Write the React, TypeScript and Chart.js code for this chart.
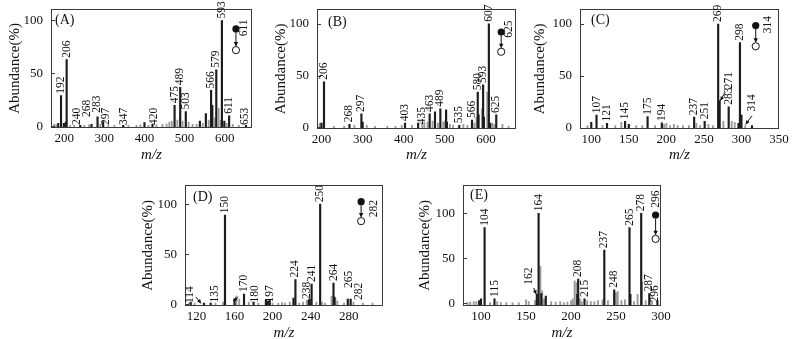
import React, { useEffect, useRef } from "react";
import { Chart, registerables } from "chart.js";

Chart.register(...registerables);

const FONT = '"Liberation Serif", "Times New Roman", serif';
const INK = "#111111";

// ---------------- Panel A ----------------
const A_LABEL_MZ = [192, 206, 240, 268, 283, 297, 347, 420, 475, 489, 503, 566, 579, 593, 611, 653];
const A_LABEL_AB = [29, 63, 1, 2, 9, 4.5, 1, 2, 20, 37, 14, 34, 53.5, 100, 10, 1];
const A_BLACK_MZ = [185, 199, 204, 400, 538, 553, 569, 599];
const A_BLACK_AB = [3, 3, 4, 3.6, 5, 12, 20, 5];
const A_GRAY_MZ = [175, 180, 215, 225, 250, 262, 290, 310, 325, 360, 380, 390, 410, 430, 445, 455, 462, 468, 482, 495, 510, 520, 530, 545, 560, 575, 585, 590, 605, 620, 635];
const A_GRAY_AB = [2, 1.5, 1, 1, 1, 1.5, 2, 1, 1, 1, 1, 1.5, 1, 1.5, 2, 2.5, 4, 5, 6, 5, 4, 2, 2, 3, 6, 8, 17, 6, 3, 2, 1];
const A_X_TICKS = [200, 300, 400, 500, 600];

// ---------------- Panel B ----------------
const B_LABEL_MZ = [206, 268, 297, 403, 435, 463, 489, 535, 566, 580, 593, 607, 625];
const B_LABEL_AB = [44, 3, 13, 4, 4, 13, 18, 2, 7, 34, 41, 100, 12];
const B_BLACK_MZ = [200, 300, 476, 503, 505, 582, 595, 610];
const B_BLACK_AB = [4, 5, 15, 17, 5, 12, 10, 4];
const B_GRAY_MZ = [190, 196, 230, 255, 280, 310, 330, 360, 380, 395, 420, 445, 450, 458, 470, 483, 496, 500, 512, 520, 545, 555, 572, 577, 590, 603, 615, 620, 640, 655];
const B_GRAY_AB = [3, 4, 1, 1, 2, 2, 1, 1, 1, 2, 2, 4, 5, 5, 6, 4, 5, 6, 3, 2, 3, 2, 4, 10, 18, 34, 4, 3, 3, 1];
const B_X_TICKS = [200, 300, 400, 500, 600];

// ---------------- Panel C ----------------
const C_LABEL_MZ = [107, 121, 145, 175, 194, 237, 251, 269, 271, 283, 298, 314];
const C_LABEL_AB = [12, 4, 6, 10.5, 4.5, 10, 6, 100, 26, 20, 82, 2];
const C_BLACK_MZ = [100, 150, 296, 300];
const C_BLACK_AB = [5, 3, 4, 12];
const C_GRAY_MZ = [95, 115, 132, 140, 160, 168, 185, 197, 200, 205, 210, 215, 222, 230, 240, 245, 256, 262, 276, 287, 291, 305];
const C_GRAY_AB = [2, 2, 2, 5, 2, 2, 2, 3, 4, 2, 3, 2, 2, 2, 4, 2, 3, 2, 6, 6, 5, 2];
const C_X_TICKS = [100, 150, 200, 250, 300, 350];

// ---------------- Panel D ----------------
const D_LABEL_MZ = [114, 135, 150, 170, 180, 197, 224, 238, 241, 250, 264, 265, 282];
const D_LABEL_AB = [2, 1, 89, 10, 2, 4, 24.5, 4, 20, 100, 21, 7, 5];
const D_BLACK_MZ = [128, 160, 193, 195, 222, 239, 279];
const D_BLACK_AB = [1, 5, 4, 3, 6, 5, 5];
const D_GRAY_MZ = [112, 118, 140, 148, 162, 165, 175, 185, 200, 206, 210, 213, 218, 228, 232, 236, 246, 252, 255, 262, 266, 268, 275, 285, 295, 305];
const D_GRAY_AB = [1, 1, 1, 2, 8, 5, 2, 1, 1, 1, 1.5, 1, 2, 1, 2, 4, 2, 2, 1, 8, 6, 3, 1, 2, 1, 1];
const D_X_TICKS = [120, 160, 200, 240, 280];

// ---------------- Panel E ----------------
const E_LABEL_MZ = [104, 115, 162, 164, 208, 215, 237, 248, 265, 278, 287, 296];
const E_LABEL_AB = [84, 5, 10, 100, 27, 5, 59, 15, 84, 100, 11, 3];
const E_BLACK_MZ = [98, 100, 167, 172, 207, 266];
const E_BLACK_AB = [3, 5, 11, 8, 10, 10];
const E_GRAY_MZ = [85, 88, 92, 95, 110, 118, 122, 128, 135, 142, 150, 153, 160, 166, 168, 170, 178, 183, 188, 192, 196, 200, 202, 204, 206, 210, 212, 218, 222, 226, 230, 235, 241, 250, 252, 256, 260, 270, 274, 279, 283, 290];
const E_GRAY_AB = [1, 1.5, 2, 2, 1, 2, 1, 1, 1, 1, 4, 2, 3, 41, 14, 5, 2, 1.5, 2, 1, 1.5, 3, 5, 25, 23, 5, 2, 3, 2, 2, 3, 4, 3, 12, 13, 3, 4, 2, 10, 24, 3, 3];
const E_X_TICKS = [100, 150, 200, 250, 300];

const Y_TICKS = [0, 50, 100];

type XY = [number, number];
type Panel = {
  name: string;
  L: number; T: number; R: number; B: number;
  yTitleX: number; xTitleY: number;
  xMin: number; xMax: number; yMin: number; yMax: number;
  xTicks: number[];
  labelMz: number[]; labelAb: number[];
  blackMz: number[]; blackAb: number[];
  grayMz: number[]; grayAb: number[];
  labelAt: Record<string, XY>;
  arrows: { from: XY; to: XY }[];
  marker: { x: number; top: number; bottom: number; text: string; dx: number; dy: number };
  letterDx: number; letterDy: number;
};

const PANELS: Panel[] = [
  {
    name: "(A)", L: 51, T: 3, R: 252, B: 128, yTitleX: 15, xTitleY: 155,
    xMin: 167, xMax: 668, yMin: -1.5, yMax: 111, xTicks: A_X_TICKS,
    labelMz: A_LABEL_MZ, labelAb: A_LABEL_AB, blackMz: A_BLACK_MZ, blackAb: A_BLACK_AB,
    grayMz: A_GRAY_MZ, grayAb: A_GRAY_AB,
    labelAt: { "240": [232, 0.5], "268": [257, 8], "283": [281.5, 12], "297": [303, 0.5], "347": [349, 0.5], "420": [423, 0.5], "653": [651, 0.5] },
    arrows: [],
    marker: { x: 628, top: 92, bottom: 72, text: "611", dx: 8, dy: -1 },
    letterDx: 4, letterDy: 12,
  },
  {
    name: "(B)", L: 317, T: 3, R: 516, B: 129, yTitleX: 281, xTitleY: 155,
    xMin: 189, xMax: 673, yMin: -1.6, yMax: 114.5, xTicks: B_X_TICKS,
    labelMz: B_LABEL_MZ, labelAb: B_LABEL_AB, blackMz: B_BLACK_MZ, blackAb: B_BLACK_AB,
    grayMz: B_GRAY_MZ, grayAb: B_GRAY_AB,
    labelAt: { "435": [445, 2] },
    arrows: [],
    marker: { x: 637, top: 92, bottom: 73, text: "625", dx: 8, dy: -3 },
    letterDx: 11, letterDy: 14,
  },
  {
    name: "(C)", L: 580, T: 3, R: 779, B: 129, yTitleX: 540, xTitleY: 155,
    xMin: 85, xMax: 350, yMin: -1.4, yMax: 114.7, xTicks: C_X_TICKS,
    labelMz: C_LABEL_MZ, labelAb: C_LABEL_AB, blackMz: C_BLACK_MZ, blackAb: C_BLACK_AB,
    grayMz: C_GRAY_MZ, grayAb: C_GRAY_AB,
    labelAt: { "271": [283, 36], "314": [314.5, 14.5] },
    arrows: [
      { from: [278, 34], to: [272, 26] },
      { from: [314, 11.5], to: [305.5, 3] },
    ],
    marker: { x: 319, top: 98.5, bottom: 78.5, text: "314", dx: 12, dy: -1 },
    letterDx: 11, letterDy: 12,
  },
  {
    name: "(D)", L: 185, T: 179, R: 383, B: 306, yTitleX: 148, xTitleY: 333,
    xMin: 108, xMax: 316, yMin: -1.9, yMax: 119.4, xTicks: D_X_TICKS,
    labelMz: D_LABEL_MZ, labelAb: D_LABEL_AB, blackMz: D_BLACK_MZ, blackAb: D_BLACK_AB,
    grayMz: D_GRAY_MZ, grayAb: D_GRAY_AB,
    labelAt: { "114": [113, 0], "135": [139, 0.5], "180": [181, 0.5], "197": [197.5, 0.5], "238": [236.5, 4], "265": [280, 15], "282": [290.5, 3] },
    arrows: [
      { from: [119.5, 7], to: [125, 0.7] },
      { from: [164, 7], to: [158.5, 3] },
    ],
    marker: { x: 293, top: 102.5, bottom: 83, text: "282", dx: 13, dy: 7 },
    letterDx: 8, letterDy: 13,
  },
  {
    name: "(E)", L: 463, T: 179, R: 661, B: 306, yTitleX: 425, xTitleY: 333,
    xMin: 80, xMax: 300, yMin: -2.9, yMax: 131.5, xTicks: E_X_TICKS,
    labelMz: E_LABEL_MZ, labelAb: E_LABEL_AB, blackMz: E_BLACK_MZ, blackAb: E_BLACK_AB,
    grayMz: E_GRAY_MZ, grayAb: E_GRAY_AB,
    labelAt: { "162": [153, 19.5], "296": [293.5, 0] },
    arrows: [{ from: [158.5, 17], to: [161.5, 10] }],
    marker: { x: 294, top: 98, bottom: 71.5, text: "296", dx: 0, dy: -16 },
    letterDx: 7, letterDy: 11,
  },
];

const PAD_TOP = 10;
const PAD_RIGHT = 14;

function geometry(p: Panel) {
  const yw = p.L - p.yTitleX + 9;
  const canvasLeft = p.L - yw;
  const canvasTop = p.T - PAD_TOP;
  const width = p.R - p.L + yw + PAD_RIGHT;
  const canvasBottom = p.xTitleY + 9;
  const height = canvasBottom - canvasTop;
  const xh = canvasBottom - p.B;
  return { yw, canvasLeft, canvasTop, width, height, xh };
}

function drawArrowHead(ctx: CanvasRenderingContext2D, fx: number, fy: number, tx: number, ty: number, size: number) {
  const ang = Math.atan2(ty - fy, tx - fx);
  ctx.beginPath();
  ctx.moveTo(tx, ty);
  ctx.lineTo(tx - size * Math.cos(ang - 0.45), ty - size * Math.sin(ang - 0.45));
  ctx.lineTo(tx - size * Math.cos(ang + 0.45), ty - size * Math.sin(ang + 0.45));
  ctx.closePath();
  ctx.fill();
}

function Spectrum({ p }: { p: Panel }) {
  const ref = useRef<HTMLCanvasElement>(null);
  const g = geometry(p);

  useEffect(() => {
    const canvas = ref.current;
    if (!canvas) return;

    const decor = {
      id: "decor",
      afterDraw(chart: any) {
        const ctx: CanvasRenderingContext2D = chart.ctx;
        const xs = chart.scales.x;
        const ys = chart.scales.y;
        const a = chart.chartArea;
        ctx.save();
        // frame
        ctx.strokeStyle = "#3a3a3a";
        ctx.lineWidth = 1;
        ctx.strokeRect(Math.round(a.left) + 0.5, Math.round(a.top) + 0.5, Math.round(a.right - a.left) - 1, Math.round(a.bottom - a.top) - 1);
        // inner y ticks
        Y_TICKS.forEach((v) => {
          const y = Math.round(ys.getPixelForValue(v)) + 0.5;
          ctx.beginPath();
          ctx.moveTo(a.left, y);
          ctx.lineTo(a.left + 4, y);
          ctx.stroke();
        });
        // panel letter
        ctx.fillStyle = INK;
        ctx.font = `14px ${FONT}`;
        ctx.textAlign = "left";
        ctx.textBaseline = "middle";
        ctx.fillText(p.name, a.left + p.letterDx, a.top + p.letterDy);
        // peak labels
        ctx.font = `11.5px ${FONT}`;
        p.labelMz.forEach((mz, i) => {
          const key = String(mz);
          const pos = p.labelAt[key];
          let px: number, py: number;
          if (pos) {
            px = xs.getPixelForValue(pos[0]);
            py = ys.getPixelForValue(pos[1]) - 1;
          } else {
            px = xs.getPixelForValue(mz);
            py = ys.getPixelForValue(p.labelAb[i]) - 2;
          }
          ctx.save();
          ctx.translate(px, py);
          ctx.rotate(-Math.PI / 2);
          ctx.textAlign = "left";
          ctx.textBaseline = "middle";
          ctx.fillText(key, 0, 0);
          ctx.restore();
        });
        // arrows
        ctx.strokeStyle = INK;
        ctx.fillStyle = INK;
        p.arrows.forEach((ar) => {
          const fx = xs.getPixelForValue(ar.from[0]);
          const fy = ys.getPixelForValue(ar.from[1]);
          const tx = xs.getPixelForValue(ar.to[0]);
          const ty = ys.getPixelForValue(ar.to[1]);
          ctx.beginPath();
          ctx.moveTo(fx, fy);
          ctx.lineTo(tx, ty);
          ctx.stroke();
          drawArrowHead(ctx, fx, fy, tx, ty, 4.5);
        });
        // precursor marker
        const m = p.marker;
        const mx = xs.getPixelForValue(m.x);
        const my1 = ys.getPixelForValue(m.top);
        const my2 = ys.getPixelForValue(m.bottom);
        const r = 3.6;
        ctx.beginPath();
        ctx.arc(mx, my1, r, 0, Math.PI * 2);
        ctx.fill();
        ctx.beginPath();
        ctx.moveTo(mx, my1 + r);
        ctx.lineTo(mx, my2 - r - 1);
        ctx.stroke();
        drawArrowHead(ctx, mx, my1, mx, my2 - r, 5);
        ctx.beginPath();
        ctx.arc(mx, my2, r, 0, Math.PI * 2);
        ctx.fillStyle = "#ffffff";
        ctx.fill();
        ctx.stroke();
        ctx.fillStyle = INK;
        ctx.save();
        ctx.translate(mx + m.dx, my1 + m.dy);
        ctx.rotate(-Math.PI / 2);
        ctx.font = `11.5px ${FONT}`;
        ctx.textAlign = "center";
        ctx.textBaseline = "middle";
        ctx.fillText(m.text, 0, 0);
        ctx.restore();
        ctx.restore();
      },
    };

    const pts = (xs: number[], ys: number[]) => xs.map((x, i) => ({ x, y: ys[i] }));

    const chart = new Chart(canvas, {
      type: "bar",
      data: {
        datasets: [
          { data: pts(p.labelMz, p.labelAb), backgroundColor: "#1c1c1c", barThickness: 1.5, base: p.yMin, grouped: false } as any,
          { data: pts(p.blackMz, p.blackAb), backgroundColor: "#1c1c1c", barThickness: 1.5, base: p.yMin, grouped: false } as any,
          { data: pts(p.grayMz, p.grayAb), backgroundColor: "#9a9a9a", barThickness: 1.2, base: p.yMin, grouped: false } as any,
        ],
      },
      options: {
        responsive: false,
        animation: false,
        devicePixelRatio: 1,
        layout: { padding: { top: PAD_TOP, right: PAD_RIGHT, left: 0, bottom: 0 } },
        plugins: { legend: { display: false }, tooltip: { enabled: false } },
        scales: {
          x: {
            type: "linear",
            offset: false,
            min: p.xMin,
            max: p.xMax,
            grid: { display: false, drawTicks: false },
            border: { display: false },
            ticks: { font: { family: FONT, size: 13 }, color: INK, padding: 3, maxRotation: 0, autoSkip: false },
            afterBuildTicks: (s: any) => { s.ticks = p.xTicks.map((v) => ({ value: v })); },
            afterFit: (s: any) => { s.height = g.xh; },
            title: { display: true, text: "m/z", color: INK, padding: 0, font: { family: FONT, size: 15, style: "italic" } },
          },
          y: {
            type: "linear",
            min: p.yMin,
            max: p.yMax,
            grid: { display: false, drawTicks: false },
            border: { display: false },
            ticks: { font: { family: FONT, size: 13 }, color: INK, padding: 8 },
            afterBuildTicks: (s: any) => { s.ticks = Y_TICKS.map((v) => ({ value: v })); },
            afterFit: (s: any) => { s.width = g.yw; },
            title: { display: true, text: "Abundance(%)", color: INK, padding: 0, font: { family: FONT, size: 15 } },
          },
        },
      } as any,
      plugins: [decor],
    });
    return () => chart.destroy();
  }, []);

  return (
    <canvas
      ref={ref}
      width={g.width}
      height={g.height}
      style={{ position: "absolute", left: g.canvasLeft, top: g.canvasTop, width: g.width, height: g.height }}
    />
  );
}

export default function App() {
  return (
    <div style={{ position: "fixed", left: 0, top: 0, width: 800, height: 339, background: "#ffffff", overflow: "hidden" }}>
      {PANELS.map((p) => (
        <Spectrum key={p.name} p={p} />
      ))}
    </div>
  );
}
